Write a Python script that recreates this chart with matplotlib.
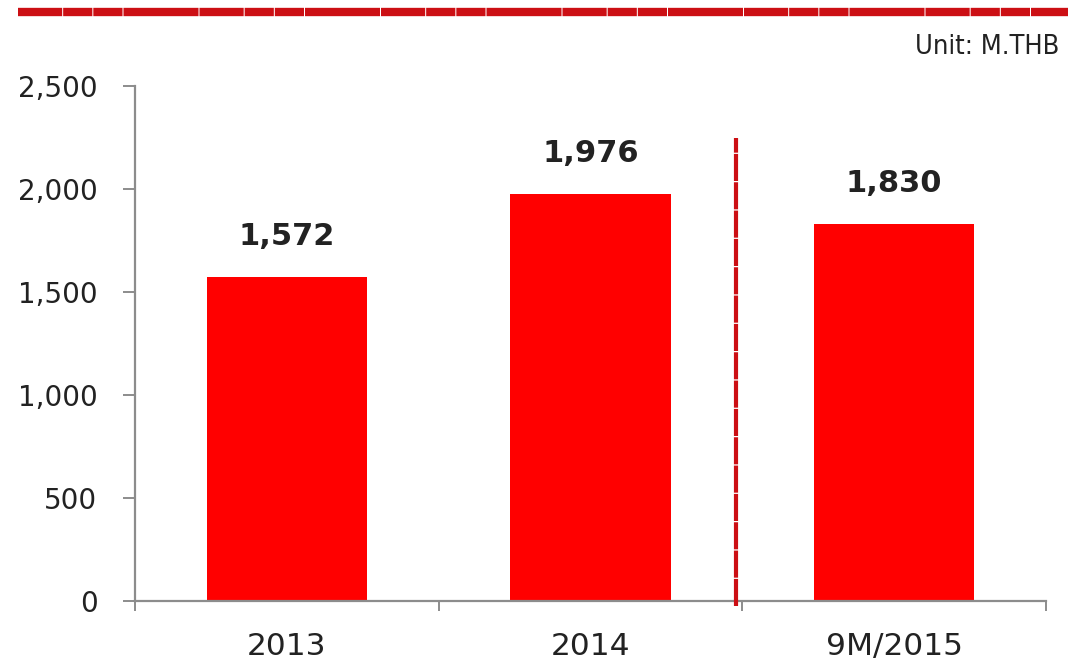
import matplotlib

matplotlib.use("Agg")

import matplotlib.pyplot as plt

# Revenue by period, million THB
periods = ["2013", "2014", "9M/2015"]
revenue = [1572, 1976, 1830]
y_ticks = [0, 500, 1000, 1500, 2000, 2500]

BAR_RED = "#FF0000"
LINE_RED = "#CC0F14"
AXIS_GREY = "#8C8C8C"
TEXT = "#222222"

fig = plt.figure(figsize=(10.68, 6.67), dpi=100)
ax = fig.add_axes([0.1264, 0.099, 0.853, 0.772])

x = list(range(len(periods)))
ax.bar(x, revenue, width=0.527, color=BAR_RED, zorder=2)

for xi, val in zip(x, revenue):
    ax.text(xi, val + 125, f"{val:,}", ha="center", va="bottom",
            fontsize=22, fontweight="bold", color=TEXT)

ax.set_xlim(-0.5, 2.5)
ax.set_ylim(0, 2500)
ax.set_yticks(y_ticks)
ax.set_yticklabels([f"{v:,}" for v in y_ticks])
ax.set_xticks(x)
ax.set_xticklabels(periods)
ax.set_xticks([-0.5, 0.5, 1.5, 2.5], minor=True)

for side in ("top", "right"):
    ax.spines[side].set_visible(False)
for side in ("left", "bottom"):
    ax.spines[side].set_color(AXIS_GREY)
    ax.spines[side].set_linewidth(1.6)

ax.tick_params(axis="y", direction="out", length=9, width=1.4, color=AXIS_GREY,
               pad=18, labelsize=20, labelcolor=TEXT)
ax.tick_params(axis="x", which="major", length=0, pad=22, labelsize=22.5, labelcolor=TEXT)
ax.tick_params(axis="x", which="minor", direction="out", length=7, width=1.4, color=AXIS_GREY)

# divider between full years and the nine-month period
ax.plot([1.478, 1.478], [-25, 2250], color=LINE_RED, linewidth=3,
        linestyle=(0, (6.5, 0.3)), clip_on=False, zorder=3)

# header rule across the top
fig.add_artist(plt.Line2D([0.017, 1.0], [0.982, 0.982], transform=fig.transFigure,
                          color=LINE_RED, linewidth=6,
                          linestyle=(0, (5.3, 0.12, 3.5, 0.12, 3.5, 0.12, 9, 0.12))))

fig.text(0.992, 0.93, "Unit: M.THB", ha="right", va="center", fontsize=19.5,
         fontstretch="condensed", color=TEXT)

fig.savefig("out.png", dpi=100, facecolor="white")
